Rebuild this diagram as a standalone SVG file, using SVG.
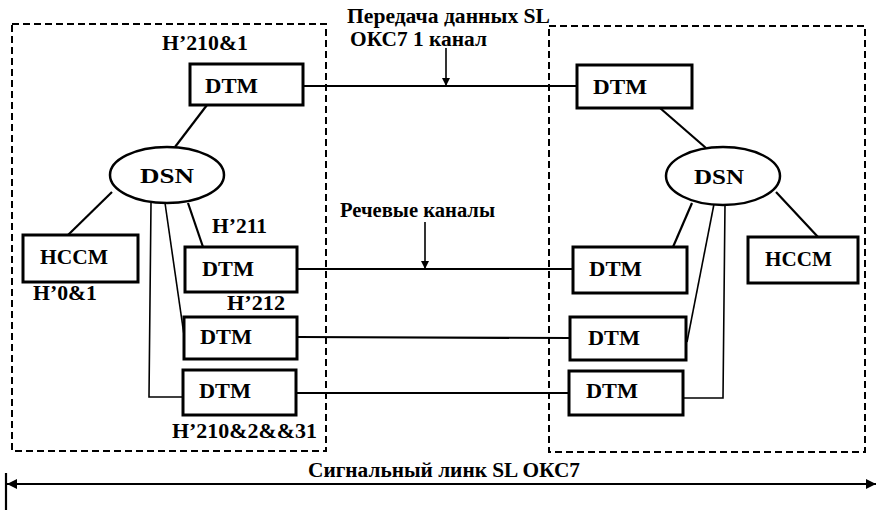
<svg xmlns="http://www.w3.org/2000/svg" width="878" height="512" viewBox="0 0 878 512">
<defs>
<marker id="ah" viewBox="0 0 10 10" refX="10" refY="5" markerWidth="8" markerHeight="8" markerUnits="userSpaceOnUse" orient="auto">
<path d="M0,0 L10,5 L0,10 Z" fill="#000"/>
</marker>
<marker id="ahb" viewBox="0 0 10 10" refX="10" refY="5" markerWidth="10" markerHeight="10" markerUnits="userSpaceOnUse" orient="auto-start-reverse">
<path d="M0,0 L10,5 L0,10 Z" fill="#000"/>
</marker>
</defs>
<rect width="878" height="512" fill="#fff"/>
<g id="frames" fill="none" stroke="#000" stroke-width="2" stroke-dasharray="7 4">
<rect x="12" y="24" width="314" height="427"/>
<rect x="549" y="26" width="316" height="426"/>
</g>
<g id="connectors" fill="none" stroke="#000" stroke-width="2.2">
<line x1="303" y1="86" x2="577" y2="86"/>
<line x1="297" y1="269" x2="573" y2="269"/>
<line x1="297" y1="337" x2="570" y2="338"/>
<line x1="296" y1="393" x2="569" y2="393"/>
<line x1="207" y1="105" x2="175" y2="147"/>
<line x1="68" y1="235" x2="112" y2="192"/>
<line x1="188" y1="203" x2="203" y2="247"/>
<line x1="165" y1="203" x2="184" y2="335" stroke-width="1.6"/>
<polyline points="151,203 149,397 183,397" stroke-width="1.6"/>
<line x1="660" y1="108" x2="706" y2="148"/>
<line x1="776" y1="192" x2="818" y2="237"/>
<line x1="692" y1="203" x2="673" y2="247"/>
<line x1="714" y1="204" x2="687" y2="342" stroke-width="1.6"/>
<polyline points="725,204 723,398 683,398" stroke-width="1.6"/>
<line x1="446" y1="48" x2="446" y2="86" stroke-width="1.6" marker-end="url(#ah)"/>
<line x1="425" y1="222" x2="425" y2="269" stroke-width="1.6" marker-end="url(#ah)"/>
<line x1="7" y1="484" x2="876" y2="484" marker-start="url(#ahb)" marker-end="url(#ahb)"/>
<line x1="6" y1="473" x2="6" y2="510"/>
</g>
<g id="nodes" fill="#fff" stroke="#000" stroke-width="3">
<g id="dtm-l1"><rect x="190" y="64" width="113" height="41"/><text font-family="Liberation Serif" font-weight="bold" font-size="20" fill="#000" stroke="none" x="205" y="93" textLength="53" lengthAdjust="spacingAndGlyphs">DTM</text></g>
<g id="dsn-l"><ellipse cx="167" cy="175" rx="57" ry="28" stroke-width="2.5"/><text font-family="Liberation Serif" font-weight="bold" font-size="20" fill="#000" stroke="none" x="140" y="183" textLength="54" lengthAdjust="spacingAndGlyphs">DSN</text></g>
<g id="hccm-l"><rect x="23" y="235" width="115" height="47"/><text font-family="Liberation Serif" font-weight="bold" font-size="20" fill="#000" stroke="none" x="40" y="264" textLength="68" lengthAdjust="spacingAndGlyphs">HCCM</text></g>
<g id="dtm-l2"><rect x="185" y="247" width="112" height="45"/><text font-family="Liberation Serif" font-weight="bold" font-size="20" fill="#000" stroke="none" x="202" y="276" textLength="52" lengthAdjust="spacingAndGlyphs">DTM</text></g>
<g id="dtm-l3"><rect x="184" y="317" width="113" height="42"/><text font-family="Liberation Serif" font-weight="bold" font-size="20" fill="#000" stroke="none" x="200" y="344" textLength="52" lengthAdjust="spacingAndGlyphs">DTM</text></g>
<g id="dtm-l4"><rect x="183" y="370" width="113" height="45"/><text font-family="Liberation Serif" font-weight="bold" font-size="20" fill="#000" stroke="none" x="199" y="398" textLength="52" lengthAdjust="spacingAndGlyphs">DTM</text></g>
<g id="dtm-r1"><rect x="577" y="65" width="115" height="43"/><text font-family="Liberation Serif" font-weight="bold" font-size="20" fill="#000" stroke="none" x="593" y="94" textLength="54" lengthAdjust="spacingAndGlyphs">DTM</text></g>
<g id="dsn-r"><ellipse cx="723" cy="176" rx="57" ry="29" stroke-width="2.5"/><text font-family="Liberation Serif" font-weight="bold" font-size="20" fill="#000" stroke="none" x="694" y="184" textLength="50" lengthAdjust="spacingAndGlyphs">DSN</text></g>
<g id="hccm-r"><rect x="748" y="237" width="110" height="46"/><text font-family="Liberation Serif" font-weight="bold" font-size="20" fill="#000" stroke="none" x="765" y="266" textLength="67" lengthAdjust="spacingAndGlyphs">HCCM</text></g>
<g id="dtm-r2"><rect x="573" y="247" width="114" height="46"/><text font-family="Liberation Serif" font-weight="bold" font-size="20" fill="#000" stroke="none" x="589" y="276" textLength="53" lengthAdjust="spacingAndGlyphs">DTM</text></g>
<g id="dtm-r3"><rect x="570" y="317" width="116" height="43"/><text font-family="Liberation Serif" font-weight="bold" font-size="20" fill="#000" stroke="none" x="588" y="345" textLength="52" lengthAdjust="spacingAndGlyphs">DTM</text></g>
<g id="dtm-r4"><rect x="569" y="371" width="114" height="44"/><text font-family="Liberation Serif" font-weight="bold" font-size="20" fill="#000" stroke="none" x="586" y="398" textLength="52" lengthAdjust="spacingAndGlyphs">DTM</text></g>
</g>
<g id="labels">
<text font-family="Liberation Serif" font-weight="bold" font-size="20" x="162" y="50" textLength="86" lengthAdjust="spacingAndGlyphs">H’210&amp;1</text>
<text font-family="Liberation Serif" font-weight="bold" font-size="20" x="212" y="233" textLength="55" lengthAdjust="spacingAndGlyphs">H’211</text>
<text font-family="Liberation Serif" font-weight="bold" font-size="20" x="227" y="310" textLength="58" lengthAdjust="spacingAndGlyphs">H’212</text>
<text font-family="Liberation Serif" font-weight="bold" font-size="20" x="33" y="300" textLength="64" lengthAdjust="spacingAndGlyphs">H’0&amp;1</text>
<text font-family="Liberation Serif" font-weight="bold" font-size="20" x="172" y="438" textLength="145" lengthAdjust="spacingAndGlyphs">H’210&amp;2&amp;&amp;31</text>
<text font-family="Liberation Serif" font-weight="bold" font-size="20" x="347" y="23" textLength="203" lengthAdjust="spacingAndGlyphs">Передача данных SL</text>
<text font-family="Liberation Serif" font-weight="bold" font-size="20" x="350" y="46" textLength="137" lengthAdjust="spacingAndGlyphs">ОКС7 1 канал</text>
<text font-family="Liberation Serif" font-weight="bold" font-size="20" x="340" y="217" textLength="155" lengthAdjust="spacingAndGlyphs">Речевые каналы</text>
<text font-family="Liberation Serif" font-weight="bold" font-size="20" x="308" y="477" textLength="272" lengthAdjust="spacingAndGlyphs">Сигнальный линк SL  ОКС7</text>
</g>
</svg>
